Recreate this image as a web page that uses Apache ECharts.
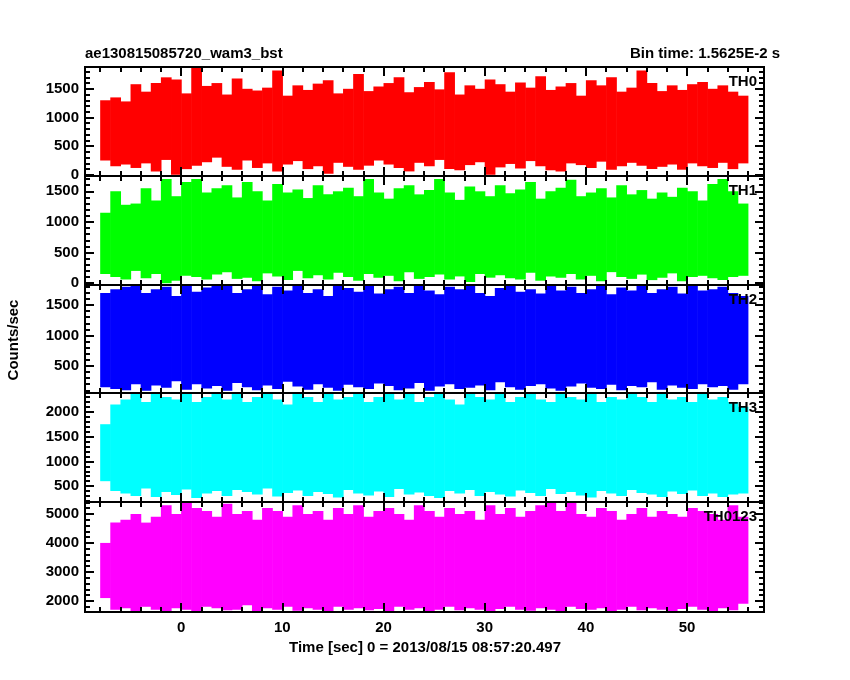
<!DOCTYPE html>
<html>
<head>
<meta charset="utf-8">
<script src="https://cdn.jsdelivr.net/npm/echarts@6/dist/echarts.min.js"></script>
<style>html,body{margin:0;padding:0;background:#fff}#main{width:850px;height:680px}</style>
</head>
<body>
<div id="main"></div>
<script>
// 1-second bins from -8 s to 56 s
var binStart = -8;
var panelNames = ['TH0', 'TH1', 'TH2', 'TH3', 'TH0123'];
var colors = ['#ff0000', '#00ff00', '#0000ff', '#00ffff', '#ff00ff'];
var yMin = [-20, -30, 55, 180, 1620];
var yMax = [1880, 1750, 1830, 2380, 5410];
var yLabels = [[0, 500, 1000, 1500], [0, 500, 1000, 1500], [500, 1000, 1500], [500, 1000, 1500, 2000], [2000, 3000, 4000, 5000]];

// min / max of counts within each 1 s bin
var th0Hi = [1300,1350,1280,1580,1450,1600,1700,1660,1420,1880,1550,1600,1400,1680,1500,1470,1520,1820,1380,1560,1480,1590,1650,1420,1500,1760,1460,1540,1600,1700,1440,1530,1620,1490,1790,1400,1560,1500,1660,1580,1450,1610,1520,1720,1480,1540,1600,1380,1650,1560,1700,1450,1520,1820,1600,1460,1560,1480,1580,1620,1500,1560,1450,1380];
var th0Lo = [250,150,180,120,200,60,260,0,100,160,220,300,140,90,250,120,200,60,180,240,100,150,20,210,140,90,160,250,180,120,60,210,150,260,100,80,170,220,0,130,190,110,240,150,80,60,200,170,120,230,90,150,210,160,100,140,180,90,200,150,120,210,100,200];
var th1Hi = [1150,1500,1280,1300,1550,1350,1700,1420,1650,1700,1480,1550,1600,1400,1650,1500,1350,1620,1480,1530,1390,1600,1450,1500,1560,1420,1700,1480,1380,1550,1600,1450,1520,1700,1480,1360,1580,1500,1420,1600,1470,1530,1650,1380,1500,1560,1690,1420,1480,1550,1400,1600,1450,1520,1380,1480,1410,1560,1500,1350,1620,1700,1500,1300];
var th1Lo = [150,100,60,200,80,150,0,40,120,100,60,140,180,70,90,30,160,110,50,200,80,130,60,170,100,40,150,90,120,30,180,70,100,140,60,110,20,150,90,130,80,60,170,40,110,90,150,60,120,30,180,100,70,140,50,90,160,30,100,120,80,50,100,120];
var th2Hi = [1700,1760,1800,1830,1700,1760,1800,1650,1830,1720,1790,1830,1830,1700,1760,1830,1680,1800,1740,1830,1700,1760,1650,1830,1780,1720,1830,1690,1760,1800,1700,1830,1740,1680,1800,1760,1830,1700,1650,1780,1830,1720,1760,1690,1830,1740,1800,1700,1760,1830,1680,1790,1740,1830,1700,1760,1800,1690,1830,1740,1760,1800,1700,1650];
var th2Lo = [150,120,100,200,90,180,140,250,110,200,130,170,90,220,150,100,180,120,240,160,110,200,140,90,190,150,120,210,170,100,130,220,90,160,200,120,140,180,100,230,150,110,170,200,130,90,160,210,140,120,190,100,170,150,230,110,180,140,120,200,150,170,110,200];
var th3Hi = [1750,2150,2250,2380,2200,2380,2300,2250,2380,2200,2300,2380,2250,2380,2200,2300,2380,2250,2150,2380,2300,2200,2380,2250,2300,2380,2200,2300,2380,2250,2380,2200,2300,2380,2250,2150,2380,2300,2250,2380,2200,2300,2380,2250,2200,2380,2300,2250,2380,2200,2300,2250,2380,2300,2200,2380,2250,2300,2200,2380,2250,2300,2200,2100];
var th3Lo = [600,400,350,300,450,280,380,320,430,260,350,400,300,420,380,330,450,290,360,410,300,380,340,270,420,350,310,390,280,440,330,370,300,260,400,350,420,300,380,330,290,410,360,300,440,340,380,310,270,400,350,300,420,360,330,280,390,340,410,300,350,280,330,350];
var th0123Hi = [4000,4700,4800,5000,4700,4900,5300,5000,5410,5200,5100,4900,5350,5000,5100,4800,5200,5100,4900,5300,5000,5100,4800,5200,5000,5300,4900,5100,5200,5000,4800,5300,5100,4900,5200,5000,5100,4800,5300,5000,5200,4900,5100,5300,5410,5100,5400,5000,4900,5200,5100,4800,5000,5200,4900,5100,5000,4900,5200,5100,5000,4800,5300,4900];
var th0123Lo = [2100,1700,1750,1650,1800,1700,1650,1750,1700,1650,1800,1750,1680,1700,1850,1650,1750,1700,1800,1660,1750,1700,1650,1800,1700,1750,1680,1720,1650,1800,1700,1750,1650,1700,1800,1680,1750,1700,1650,1720,1800,1700,1660,1750,1700,1650,1800,1720,1700,1750,1650,1700,1800,1680,1750,1700,1650,1720,1800,1700,1650,1750,1680,1900];

var highs = [th0Hi, th1Hi, th2Hi, th3Hi, th0123Hi];
var lows = [th0Lo, th1Lo, th2Lo, th3Lo, th0123Lo];

var tops = [67, 176, 285, 393, 502];
var heights = [109, 109, 108, 109, 110];
var font = 'Liberation Sans';

var majorX = [0, 10, 20, 30, 40, 50];
var minorX = [];
for (var t = -8; t <= 56; t += 2) minorX.push(t);

function plain(v) { return String(v); }

var grids = [], xAxes = [], yAxes = [], series = [], graphics = [];
for (var i = 0; i < 5; i++) {
  grids.push({ left: 85, right: 86, top: tops[i], height: heights[i], show: true, borderColor: '#000', borderWidth: 2, backgroundColor: 'transparent', z: 5 });
  var last = i === 4;
  ['bottom', 'top'].forEach(function (pos) {
    xAxes.push({
      type: 'value', gridIndex: i, min: -9.5, max: 57.6, position: pos,
      axisLine: { show: false, onZero: false },
      splitLine: { show: false },
      axisTick: { show: true, inside: true, length: 9, customValues: majorX, lineStyle: { color: '#000', width: 2 } },
      axisLabel: { show: last && pos === 'bottom', customValues: majorX, formatter: plain, color: '#000', fontFamily: font, fontWeight: 'bold', fontSize: 15, margin: 8 },
      z: 5
    });
    xAxes.push({
      type: 'value', gridIndex: i, min: -9.5, max: 57.6, position: pos,
      axisLine: { show: false, onZero: false }, splitLine: { show: false },
      axisTick: { show: true, inside: true, length: 5, customValues: minorX, lineStyle: { color: '#000', width: 2 } },
      axisLabel: { show: false },
      z: 5
    });
  });
  var minorY = [];
  var step = i === 4 ? 200 : 100;
  for (var v = Math.ceil(yMin[i] / step) * step; v <= yMax[i]; v += step) minorY.push(v);
  ['left', 'right'].forEach(function (pos) {
    yAxes.push({
      type: 'value', gridIndex: i, min: yMin[i], max: yMax[i], position: pos,
      axisLine: { show: false, onZero: false }, splitLine: { show: false },
      axisTick: { show: true, inside: true, length: 9, customValues: yLabels[i], lineStyle: { color: '#000', width: 2 } },
      axisLabel: { show: pos === 'left', customValues: yLabels[i], formatter: plain, color: '#000', fontFamily: font, fontWeight: 'bold', fontSize: 15, margin: 6 },
      z: 5
    });
    yAxes.push({
      type: 'value', gridIndex: i, min: yMin[i], max: yMax[i], position: pos,
      axisLine: { show: false, onZero: false }, splitLine: { show: false },
      axisTick: { show: true, inside: true, length: 5, customValues: minorY, lineStyle: { color: '#000', width: 2 } },
      axisLabel: { show: false },
      z: 5
    });
  });
  var data = highs[i].map(function (h, k) { return [binStart + k, binStart + k + 1, lows[i][k], h]; });
  series.push({
    type: 'custom', xAxisIndex: i * 4, yAxisIndex: i * 4, clip: true, silent: true, z: 1,
    data: data,
    renderItem: (function (col) {
      return function (params, api) {
        var p0 = api.coord([api.value(0), api.value(3)]);
        var p1 = api.coord([api.value(1), api.value(2)]);
        return { type: 'rect', shape: { x: p0[0], y: p0[1], width: p1[0] - p0[0] + 0.6, height: p1[1] - p0[1] }, style: { fill: col } };
      };
    })(colors[i])
  });
  graphics.push({ type: 'text', right: 93, top: tops[i] + 7, z: 100, style: { text: panelNames[i], fill: '#000', font: 'bold 15px ' + font } });
}

graphics.push({ type: 'text', left: 85, top: 46, style: { text: 'ae130815085720_wam3_bst', fill: '#000', font: 'bold 15px ' + font } });
graphics.push({ type: 'text', right: 70, top: 46, style: { text: 'Bin time: 1.5625E-2 s', fill: '#000', font: 'bold 15px ' + font } });
graphics.push({ type: 'text', left: 'center', top: 640, style: { text: 'Time [sec] 0 = 2013/08/15 08:57:20.497', fill: '#000', font: 'bold 15px ' + font } });
graphics.push({ type: 'text', left: 6, top: 'center', rotation: Math.PI / 2, style: { text: 'Counts/sec', fill: '#000', font: 'bold 15px ' + font } });

var myChart = echarts.init(document.getElementById('main'));
myChart.setOption({
  animation: false,
  grid: grids, xAxis: xAxes, yAxis: yAxes, series: series, graphic: graphics
});
</script>
</body>
</html>
